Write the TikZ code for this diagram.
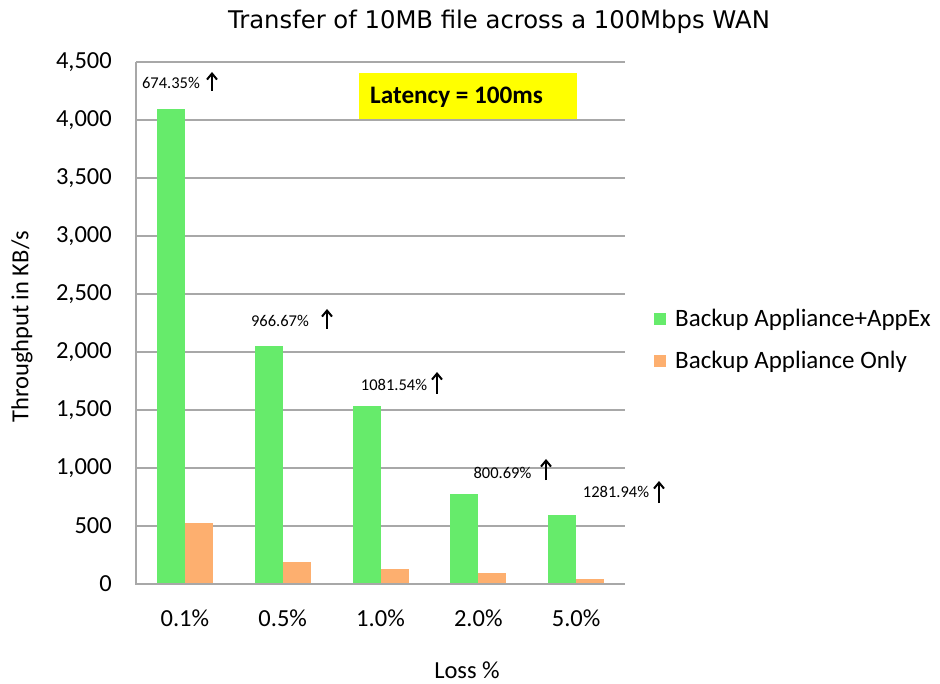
\documentclass[tikz,border=0pt]{standalone}
\usepackage{fontspec}
\setmainfont{Carlito}
\newfontfamily\titlefont{DejaVu Sans}
\usetikzlibrary{arrows.meta}
\definecolor{barG}{HTML}{66EB6B}
\definecolor{barO}{HTML}{FDAF6F}
\definecolor{gridC}{HTML}{A8A8A8}
\definecolor{boxY}{HTML}{FFFF00}
\tikzset{
  gridline/.style={draw=gridC,line width=1.4pt},
  tick/.style={font=\fontsize{24.5}{28}\selectfont,inner sep=0pt},
  legtext/.style={font=\fontsize{25}{29}\selectfont,inner sep=0pt,anchor=west},
  annot/.style={font=\fontsize{16.5}{19}\selectfont,inner sep=0pt},
  uparrow/.style={line width=2pt,-{Straight Barb[length=6pt,width=10pt,line width=2pt]}},
}
\begin{document}
\begin{tikzpicture}[x=1pt,y=-1pt]
\useasboundingbox[fill=white] (0,0) rectangle (940,684);
% title
\node[font=\titlefont\fontsize{24.3}{29}\selectfont,inner sep=0pt] (title) at (499,22) {Transfer of 10MB file across a 100Mbps WAN};
% grid
\foreach \k in {0,...,9} {
  \draw[gridline] (136,584-58*\k) -- (625,584-58*\k);
}
\draw[gridline] (136,62) -- (136,585);
% y tick labels
\foreach \k/\lab in {0/0,1/500,2/{1,000},3/{1,500},4/{2,000},5/{2,500},6/{3,000},7/{3,500},8/{4,000},9/{4,500}} {
  \node[tick,anchor=east] (yt\k) at (112,584-58*\k) {\lab};
}
% bars
\foreach \i/\g/\o in {0/4095/526,1/2050/187,2/1532/127,3/776/92,4/597/40} {
  \pgfmathsetmacro{\c}{136+97.8*(\i+0.5)}
  \pgfmathsetmacro{\gy}{584-\g*0.116}
  \pgfmathsetmacro{\oy}{584-\o*0.116}
  \fill[barG] (\c-28,\gy) rectangle (\c,584);
  \fill[barO] (\c,\oy) rectangle (\c+28,584);
}
\draw[gridline] (136,584) -- (625,584);
% x tick labels
\foreach \i/\lab in {0/0.1\%,1/0.5\%,2/1.0\%,3/2.0\%,4/5.0\%} {
  \node[tick] (xt\i) at ({136+97.8*(\i+0.5)},618) {\lab};
}
% axis titles
\node[tick] (xlabel) at (467,670) {Loss \%};
\node[tick,rotate=90] (ylabel) at (22,327) {Throughput in KB/s};
% latency box
\fill[boxY] (359,73) rectangle (577,119);
\node[font=\bfseries\fontsize{25.2}{29}\selectfont,inner sep=0pt,anchor=west] (lat) at (370,97) {Latency = 100ms};
% legend
\fill[barG] (654,313) rectangle (666,325);
\node[legtext] (leg1) at (675,320) {Backup Appliance+AppEx};
\fill[barO] (654,355) rectangle (666,367);
\node[legtext] (leg2) at (675,362) {Backup Appliance Only};
% annotations
\node[annot] (a1) at (171,83) {674.35\%};
\coordinate (a1s) at (212,91); \coordinate (a1e) at (212,72);
\draw[uparrow] (a1s) -- (a1e);
\node[annot] (a2) at (280,321) {966.67\%};
\coordinate (a2s) at (327,329); \coordinate (a2e) at (327,309);
\draw[uparrow] (a2s) -- (a2e);
\node[annot] (a3) at (394,385) {1081.54\%};
\coordinate (a3s) at (437,394); \coordinate (a3e) at (437,372);
\draw[uparrow] (a3s) -- (a3e);
\node[annot] (a4) at (502.5,473) {800.69\%};
\coordinate (a4s) at (546,480); \coordinate (a4e) at (546,459);
\draw[uparrow] (a4s) -- (a4e);
\node[annot] (a5) at (616,492) {1281.94\%};
\coordinate (a5s) at (659,503); \coordinate (a5e) at (659,481);
\draw[uparrow] (a5s) -- (a5e);
\end{tikzpicture}
\end{document}
